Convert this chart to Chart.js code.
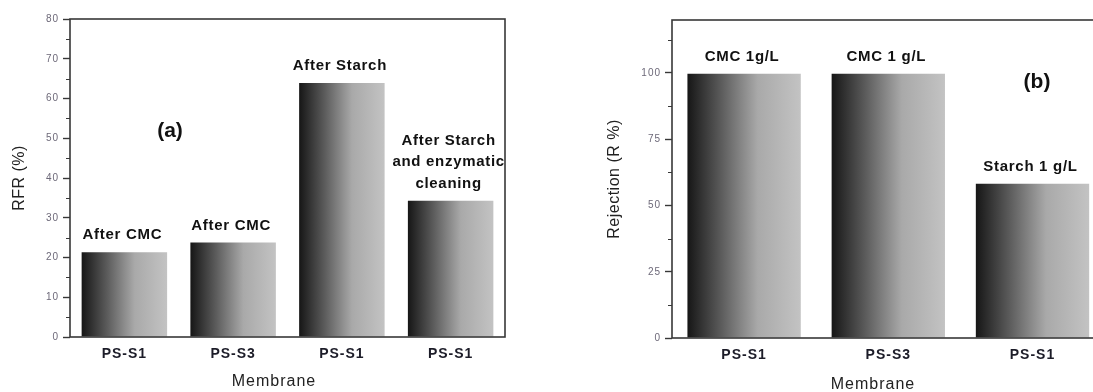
<!DOCTYPE html>
<html>
<head>
<meta charset="utf-8">
<script src="https://cdn.jsdelivr.net/npm/chart.js@4"></script>
<style>
  html, body { margin: 0; padding: 0; background: #fff; overflow: hidden; }
  body { width: 1093px; height: 392px; position: relative; }
  canvas { position: absolute; top: 0; }
  #chartA { left: 0; }
  #chartB { left: 560px; }
</style>
</head>
<body>
<canvas id="chartA" width="560" height="392"></canvas>
<canvas id="chartB" width="560" height="392"></canvas>
<script>
// panel (a)
const leftCategories = ['PS-S1', 'PS-S3', 'PS-S1', 'PS-S1'];
const leftValues = [21.3, 23.8, 63.9, 34.3];
const leftBarLabels = [['After CMC'], ['After CMC'], ['After Starch'], ['After Starch', 'and enzymatic', 'cleaning']];
const leftTickRange = [0, 80, 10];

// panel (b)
const rightCategories = ['PS-S1', 'PS-S3', 'PS-S1'];
const rightValues = [99.7, 99.7, 58.2];
const rightBarLabels = [['CMC 1g/L'], ['CMC 1 g/L'], ['Starch 1 g/L']];
const rightTickRange = [0, 120, 25];
const rightTickMax = 100;

Chart.defaults.font.family = '"Liberation Sans", Arial, sans-serif';
Chart.defaults.animation = false;

const BAR_PCT = 0.786;

function barGradient(context) {
    const chart = context.chart;
    const xs = chart.scales.x;
    if (!chart.chartArea || !xs || context.type !== 'data') return '#888';
    const cx = xs.getPixelForValue(context.dataIndex);
    const w = xs.width / chart.data.labels.length * BAR_PCT;
    const g = chart.ctx.createLinearGradient(cx - w / 2, 0, cx + w / 2, 0);
    g.addColorStop(0, '#161616');
    g.addColorStop(0.3, '#5c5c5c');
    g.addColorStop(0.62, '#a9a9a9');
    g.addColorStop(1, '#c3c3c3');
    return g;
}

// frame, minor ticks, bar captions, axis titles
const decor = {
    id: 'decor',
    beforeDraw(chart) {
        chart.ctx.letterSpacing = '1px';
    },
    afterDraw(chart, args, o) {
        const ctx = chart.ctx;
        const a = chart.chartArea;
        const ys = chart.scales.y;
        ctx.save();

        // box
        ctx.strokeStyle = '#383838';
        ctx.lineWidth = 1.6;
        ctx.strokeRect(a.left, a.top, a.right - a.left, a.bottom - a.top);

        // minor ticks
        ctx.lineWidth = 1.2;
        ctx.beginPath();
        for (let v = o.step / 2; v < ys.max; v += o.step) {
            const y = Math.round(ys.getPixelForValue(v)) + 0.5;
            ctx.moveTo(a.left - 4, y);
            ctx.lineTo(a.left, y);
        }
        ctx.stroke();

        // bar captions
        ctx.fillStyle = '#111';
        ctx.font = 'bold 15px "Liberation Sans", Arial, sans-serif';
        ctx.letterSpacing = '0.7px';
        ctx.textAlign = 'center';
        ctx.textBaseline = 'middle';
        const meta = chart.getDatasetMeta(0);
        meta.data.forEach((bar, i) => {
            const lines = o.barLabels[i];
            lines.forEach((t, k) => {
                const y = bar.y - 17 - (lines.length - 1 - k) * 21.5;
                ctx.fillText(t, bar.x - 2, y);
            });
        });

        // panel letter
        ctx.letterSpacing = '0px';
        ctx.font = 'bold 21px "Liberation Sans", Arial, sans-serif';
        ctx.fillText(o.panel, a.left + o.panelPos[0], a.top + o.panelPos[1]);

        // axis titles
        ctx.fillStyle = '#222';
        ctx.letterSpacing = '1px';
        ctx.font = '16px "Liberation Sans", Arial, sans-serif';
        ctx.fillText('Membrane', a.left + o.xTitleX, o.xTitleY);
        ctx.letterSpacing = '0.5px';
        ctx.translate(o.yTitleX, (a.top + a.bottom) / 2);
        ctx.rotate(-Math.PI / 2);
        ctx.fillText(o.yTitle, 0, 0);
        ctx.restore();
    }
};

function makeChart(id, labels, values, range, opts, leftW, rightPad, top) {
    return new Chart(document.getElementById(id), {
        type: 'bar',
        data: {
            labels: labels,
            datasets: [{
                data: values,
                backgroundColor: barGradient,
                borderWidth: 0,
                barPercentage: BAR_PCT,
                categoryPercentage: 1
            }]
        },
        options: {
            responsive: false,
            devicePixelRatio: 1,
            layout: { padding: { top: top, right: rightPad, left: 0, bottom: 0 } },
            plugins: {
                legend: { display: false },
                tooltip: { enabled: false },
                decor: opts
            },
            scales: {
                x: {
                    afterFit: s => { s.height = 392 - 337 - (top - 19); },
                    grid: { display: false, drawTicks: false },
                    border: { display: false },
                    ticks: {
                        padding: 9,
                        color: '#1c1c28',
                        font: { size: 14, weight: 'bold' }
                    }
                },
                y: {
                    min: range[0],
                    max: range[1],
                    afterFit: s => { s.width = leftW; },
                    afterBuildTicks: s => {
                        if (opts.tickMax !== undefined) s.ticks = s.ticks.filter(t => t.value <= opts.tickMax);
                    },
                    grid: {
                        drawOnChartArea: false,
                        drawTicks: true,
                        tickLength: 7,
                        tickColor: '#383838',
                        tickWidth: 1.4
                    },
                    border: { display: false },
                    ticks: {
                        stepSize: range[2],
                        padding: 4,
                        color: '#6c6878',
                        font: { size: 10 }
                    }
                }
            }
        },
        plugins: [decor]
    });
}

makeChart('chartA', leftCategories, leftValues, leftTickRange, {
    barLabels: leftBarLabels,
    step: leftTickRange[2],
    panel: '(a)',
    panelPos: [100, 112],
    yTitle: 'RFR (%)',
    yTitleX: 20,
    xTitleX: 204,
    xTitleY: 382
}, 70, 55, 19);

makeChart('chartB', rightCategories, rightValues, rightTickRange, {
    barLabels: rightBarLabels,
    step: rightTickRange[2],
    tickMax: rightTickMax,
    panel: '(b)',
    panelPos: [365, 62],
    yTitle: 'Rejection (R %)',
    yTitleX: 55,
    xTitleX: 201,
    xTitleY: 385
}, 112, 15.4, 20);
</script>
</body>
</html>
